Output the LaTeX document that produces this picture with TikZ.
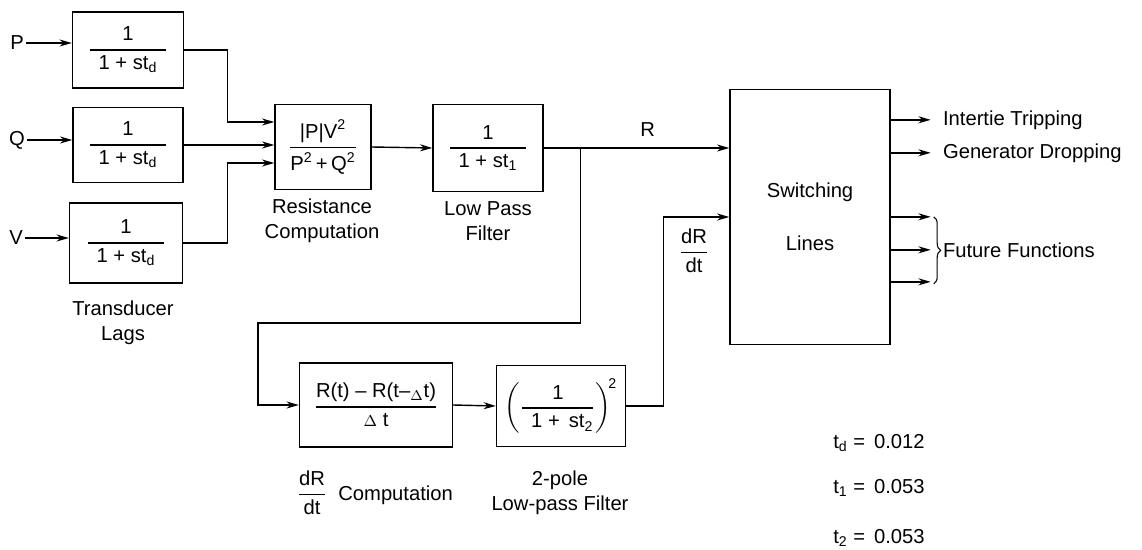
\documentclass[tikz,border=0pt]{standalone}
\usepackage{amsmath}
\usepackage{fontspec}
\setmainfont{Liberation Sans}
\usetikzlibrary{arrows.meta, calc, decorations.pathreplacing}

% block transfer function: numerator over a padded denominator
\newcommand{\blkfrac}[2]{$\genfrac{}{}{0.8pt}{0}{\text{#1}}{\hspace{5pt}\text{#2}\hspace{5pt}}$}

\begin{document}
\begin{tikzpicture}[
    x=0.02cm, y=-0.02cm,
    font=\fontsize{11.5pt}{14pt}\selectfont,
    blk/.style = {rectangle, draw=black, line width=0.8pt, inner sep=2pt},
    lbl/.style = {align=center, inner sep=1pt},
    sig/.style = {draw=black, line width=0.8pt, -{Stealth[length=7pt,width=4pt]}},
    wire/.style = {draw=black, line width=0.8pt}
]
\useasboundingbox (0,0) rectangle (1142,550);

% Transducer blocks
\node (b_p) [blk, minimum width=2.22cm, minimum height=1.52cm] at (128,50) {\blkfrac{1}{1 + st$_\text{d}$}};
\node (b_q) [blk, minimum width=2.2cm, minimum height=1.5cm] at (128,145) {\blkfrac{1}{1 + st$_\text{d}$}};
\node (b_v) [blk, minimum width=2.26cm, minimum height=1.6cm] at (126,243) {\blkfrac{1}{1 + st$_\text{d}$}};

\node (in_p) [lbl] at (17,43) {P};
\node (in_q) [lbl] at (17,140) {Q};
\node (in_v) [lbl] at (16,238) {V};

\node (t_lags) [lbl] at (123,323) {Transducer\\Lags};

% Resistance and filters
\node (b_res) [blk, minimum width=1.92cm, minimum height=1.7cm] at (323,147) {$\genfrac{}{}{0.8pt}{0}{\text{|P|V}^{\text{2}}}{\text{P}^{\text{2}}\text{\,+\,Q}^{\text{2}}}$};
\node (t_res) [lbl] at (322,221) {Resistance\\Computation};

\node (b_lp1) [blk, minimum width=2.2cm, minimum height=1.74cm] at (488,148) {\blkfrac{1}{1 + st$_\text{1}$}};
\node (t_lp1) [lbl] at (488,221) {Low Pass\\Filter};

\node (b_sw) [blk, minimum width=3.2cm, minimum height=5.1cm, align=center] at (810,217) {Switching\\[16pt]Lines};

\node (b_drc) [blk, minimum width=3.06cm, minimum height=1.68cm] at (376,405) {$\genfrac{}{}{0.8pt}{0}{\text{R(t) -- R(t--$_{\scriptstyle\Delta}$t)}}{\text{{\small$\Delta$} t}}$};
\node (t_drc) [lbl] at (375,493) {$\dfrac{\text{dR}}{\text{dt}}$ \ Computation};

\node (b_lp2) [blk, minimum width=2.58cm, minimum height=1.62cm] at (561,406) {$\left(\genfrac{}{}{0.8pt}{0}{\text{1}}{\hspace{5pt}\text{1 + \,st}_\text{2}}\right)^{\!\text{2}}$};
\node (t_lp2) [lbl] at (560,493) {2-pole\\Low-pass Filter};

% Inputs
\draw [sig] (in_p.east) -- (in_p.east -| b_p.west);
\draw [sig] (in_q.east) -- (in_q.east -| b_q.west);
\draw [sig] (in_v.east) -- (in_v.east -| b_v.west);

% Transducers to resistance computation
\draw [sig] (b_p.east) -| ($(b_res.west)+(-47,-25)$) -- ($(b_res.west)+(0,-25)$);
\draw [sig] (b_q.east) -- (b_q.east -| b_res.west);
\draw [sig] (b_v.east) -| ($(b_res.west)+(-47,16)$) -- ($(b_res.west)+(0,16)$);

\draw [sig] (b_res.east) -- (b_lp1.west);
\draw [sig] (b_lp1.east) -- (b_lp1.east -| b_sw.west) node[pos=0.56, above=3pt] (t_r) {R};

% Rate of change branch
\coordinate (br) at ($(b_lp1.east)+(37,0)$);
\draw [sig] (br) -- ++(0,175) -| ($(b_drc.west)+(-41,0)$) -- (b_drc.west);
\draw [sig] (b_drc.east) -- (b_lp2.west);
\draw [sig] (b_lp2.east) -| ($(b_sw.west)+(-66,0)$) -- (b_sw.west);
\node (t_drdt) [lbl] at (694,251) {$\dfrac{\text{dR}}{\text{dt}}$};

% Outputs
\foreach \dy/\nm in {31/o1, 64/o2, 128/o3, 161/o4, 193/o5}
  \draw [sig] ($(b_sw.north east)+(0,\dy)$) -- ++(40,0) coordinate (\nm);

\node (t_it) [anchor=west, inner sep=0pt] at ($(o1)+(12,0)$) {Intertie Tripping};
\node (t_gd) [anchor=west, inner sep=0pt] at ($(o2)+(12,0)$) {Generator Dropping};
\draw [wire, line width=0.6pt, decorate, decoration={brace, amplitude=4pt}] ($(o3)+(3,0)$) -- ($(o5)+(3,2)$);
\node (t_ff) [anchor=west, inner sep=0pt] at ($(o4)+(12,0)$) {Future Functions};

% Time constants
\node (c_td) [anchor=west, inner sep=0pt] at (833,443) {t$_\text{d}$ = \,0.012};
\node (c_t1) [anchor=west, inner sep=0pt] at (833,488) {t$_\text{1}$ = \,0.053};
\node (c_t2) [anchor=west, inner sep=0pt] at (833,538) {t$_\text{2}$ = \,0.053};

\end{tikzpicture}
\end{document}
